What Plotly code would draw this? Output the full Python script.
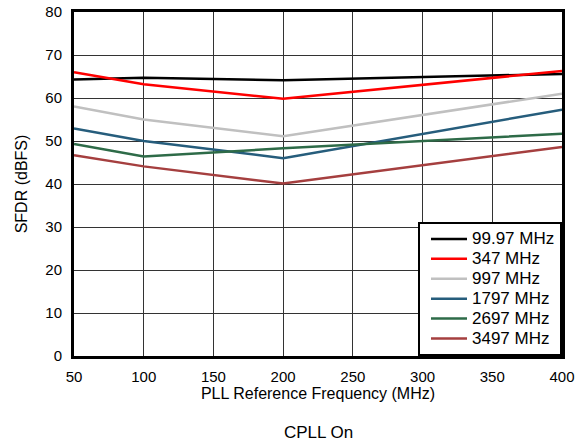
import plotly.graph_objects as go

freq_mhz = [50, 100, 200, 400]
series_names = ["99.97 MHz", "347 MHz", "997 MHz", "1797 MHz", "2697 MHz", "3497 MHz"]
sfdr_9997 = [64.3, 64.7, 64.1, 65.6]
sfdr_347 = [66.0, 63.2, 59.8, 66.3]
sfdr_997 = [58.0, 55.0, 51.1, 61.0]
sfdr_1797 = [52.9, 50.0, 46.0, 57.3]
sfdr_2697 = [49.3, 46.4, 48.3, 51.7]
sfdr_3497 = [46.7, 44.1, 40.1, 48.6]
colors = ["#000000", "#ff0000", "#c0c0c0", "#265d7c", "#2e6b48", "#a53f3f"]

all_series = [sfdr_9997, sfdr_347, sfdr_997, sfdr_1797, sfdr_2697, sfdr_3497]

fig = go.Figure()
for name, vals, col in zip(series_names, all_series, colors):
    fig.add_trace(go.Scatter(x=freq_mhz, y=vals, mode="lines",
                             name=f'<span style="font-size:17px">{name}</span>',
                             line=dict(color=col, width=2.5)))

font_family = "Liberation Sans, Arial, sans-serif"
fig.update_layout(
    width=584, height=446,
    margin=dict(l=74, r=22, t=12, b=90),
    paper_bgcolor="white", plot_bgcolor="white",
    font=dict(family=font_family, size=15, color="black"),
    showlegend=True,
    legend=dict(x=1, y=0, xanchor="right", yanchor="bottom",
                bgcolor="white", bordercolor="black", borderwidth=2,
                font=dict(size=13), tracegroupgap=0, itemwidth=36,
                indentation=6),
    annotations=[dict(text="CPLL On", x=0.5, y=-0.19, xref="paper", yref="paper",
                      xanchor="center", yanchor="top", showarrow=False,
                      font=dict(size=17, family=font_family))],
)
fig.update_xaxes(range=[50, 400], tickvals=[50, 100, 150, 200, 250, 300, 350, 400],
                 showgrid=True, gridcolor="#333333", gridwidth=1,
                 showline=True, linecolor="black", linewidth=3, mirror=True,
                 ticks="", zeroline=False, automargin=False,
                 tickfont=dict(size=15), ticklabelstandoff=5,
                 title=dict(text="PLL Reference Frequency (MHz)", standoff=2,
                            font=dict(size=16)))
fig.update_yaxes(range=[0, 80], dtick=10,
                 showgrid=True, gridcolor="#333333", gridwidth=1,
                 showline=True, linecolor="black", linewidth=3, mirror=True,
                 ticks="", zeroline=False, automargin=False,
                 tickfont=dict(size=15), ticklabelstandoff=6,
                 title=dict(text="SFDR (dBFS)", standoff=14, font=dict(size=16)))

fig.write_html("out.html", config={"displayModeBar": False},
               post_script="document.body.style.margin='0';document.body.style.overflow='hidden';")
